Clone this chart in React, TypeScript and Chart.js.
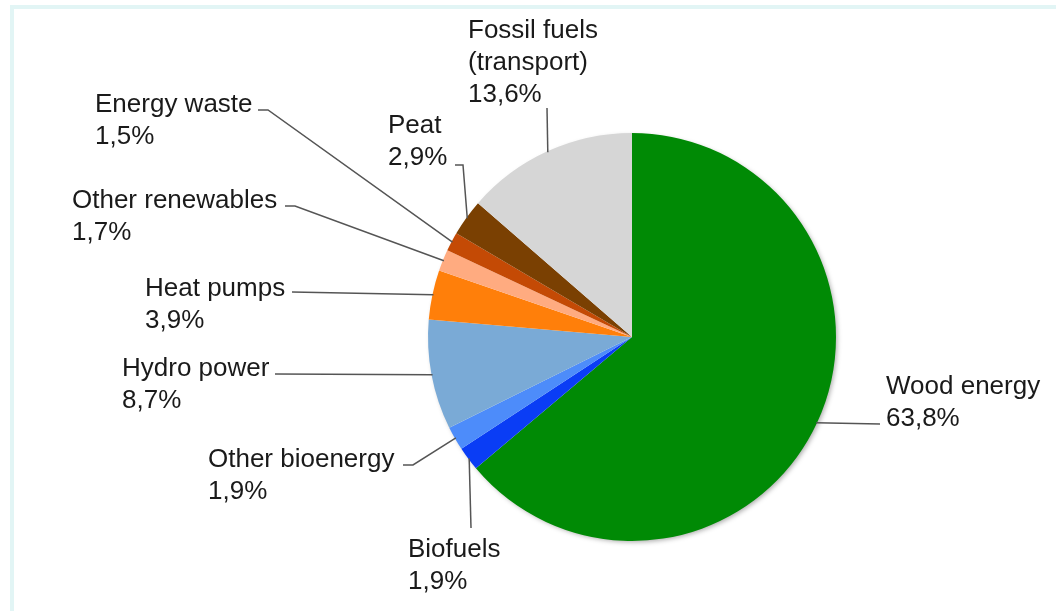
import React, { useEffect, useRef } from "react";
import { Chart, registerables } from "chart.js";

Chart.register(...registerables);

const categories = [
  "Wood energy",
  "Biofuels",
  "Other bioenergy",
  "Hydro power",
  "Heat pumps",
  "Other renewables",
  "Energy waste",
  "Peat",
  "Fossil fuels (transport)",
];
const shares = [63.8, 1.9, 1.9, 8.7, 3.9, 1.7, 1.5, 2.9, 13.6];
const sliceColors = [
  "#008a05",
  "#0a3df5",
  "#4d8cfa",
  "#7aaad6",
  "#ff7f0a",
  "#ffab80",
  "#c44a05",
  "#7a4002",
  "#d6d6d6",
];
const labelLines = [
  ["Wood energy"],
  ["Biofuels"],
  ["Other bioenergy"],
  ["Hydro power"],
  ["Heat pumps"],
  ["Other renewables"],
  ["Energy waste"],
  ["Peat"],
  ["Fossil fuels", "(transport)"],
];

// label layout: text left x, first baseline y, leader points (text side) before the arc anchor
const labelLayout = [
  { x: 886, y: 394, leader: [[880, 424]] },
  { x: 408, y: 557, leader: [[471, 528]] },
  { x: 208, y: 467, leader: [[403, 465], [413, 465]] },
  { x: 122, y: 376, leader: [[275, 374]] },
  { x: 145, y: 296, leader: [[292, 292]] },
  { x: 72, y: 208, leader: [[285, 206], [295, 206]] },
  { x: 95, y: 112, leader: [[258, 110], [268, 110]] },
  { x: 388, y: 133, leader: [[455, 165], [463, 165]] },
  { x: 468, y: 38, leader: [[547, 108]] },
];

const FONT = '26px "Liberation Sans", Arial, sans-serif';
const LINE_H = 32;

const fmt = (v: number) => v.toFixed(1).replace(".", ",") + "%";

const labelPlugin = {
  id: "pieLabels",
  beforeDatasetsDraw(chart: any) {
    const meta = chart.getDatasetMeta(0);
    const arc = meta.data[0];
    if (!arc) return;
    const ctx = chart.ctx;
    ctx.save();
    ctx.shadowColor = "rgba(0,0,0,0.35)";
    ctx.shadowBlur = 5;
    ctx.shadowOffsetX = 2;
    ctx.shadowOffsetY = 2;
    ctx.beginPath();
    ctx.arc(arc.x, arc.y, arc.outerRadius - 1, 0, Math.PI * 2);
    ctx.fillStyle = "#ffffff";
    ctx.fill();
    ctx.restore();
  },
  afterDatasetsDraw(chart: any) {
    const ctx = chart.ctx;
    const meta = chart.getDatasetMeta(0);
    ctx.save();
    meta.data.forEach((arc: any, i: number) => {
      const mid = (arc.startAngle + arc.endAngle) / 2;
      const r = arc.outerRadius - 1;
      const ax = arc.x + Math.cos(mid) * r;
      const ay = arc.y + Math.sin(mid) * r;
      const lay = labelLayout[i];
      const pts = [...lay.leader, [ax, ay]];
      ctx.beginPath();
      ctx.moveTo(pts[0][0], pts[0][1]);
      for (let k = 1; k < pts.length; k++) ctx.lineTo(pts[k][0], pts[k][1]);
      ctx.strokeStyle = "#555555";
      ctx.lineWidth = 1.5;
      ctx.stroke();

      ctx.font = FONT;
      ctx.fillStyle = "#1a1a1a";
      ctx.textAlign = "left";
      ctx.textBaseline = "alphabetic";
      const lines = [...labelLines[i], fmt(shares[i])];
      lines.forEach((t, j) => ctx.fillText(t, lay.x, lay.y + j * LINE_H));
    });
    ctx.restore();
  },
};

export default function App() {
  const ref = useRef<HTMLCanvasElement | null>(null);
  useEffect(() => {
    if (!ref.current) return;
    const chart = new Chart(ref.current, {
      type: "pie",
      data: {
        labels: categories,
        datasets: [
          {
            data: shares,
            backgroundColor: sliceColors,
            borderWidth: 0,
            hoverOffset: 0,
          },
        ],
      },
      options: {
        responsive: false,
        animation: false,
        radius: 204,
        layout: { padding: { left: 428, right: 220, top: 133, bottom: 70 } },
        plugins: {
          legend: { display: false },
          tooltip: { enabled: false },
        },
        events: [],
      } as any,
      plugins: [labelPlugin],
    });
    return () => chart.destroy();
  }, []);

  return (
    <div
      style={{
        position: "fixed",
        left: 0,
        top: 0,
        width: 1056,
        height: 611,
        background: "#ffffff",
        overflow: "hidden",
      }}
    >
      <div
        style={{
          position: "absolute",
          left: 10,
          top: 5,
          width: 1100,
          height: 700,
          border: "4px solid #e2f5f5",
          boxSizing: "border-box",
        }}
      />
      <canvas
        ref={ref}
        width={1056}
        height={611}
        style={{ position: "absolute", left: 0, top: 0, width: 1056, height: 611 }}
      />
    </div>
  );
}
